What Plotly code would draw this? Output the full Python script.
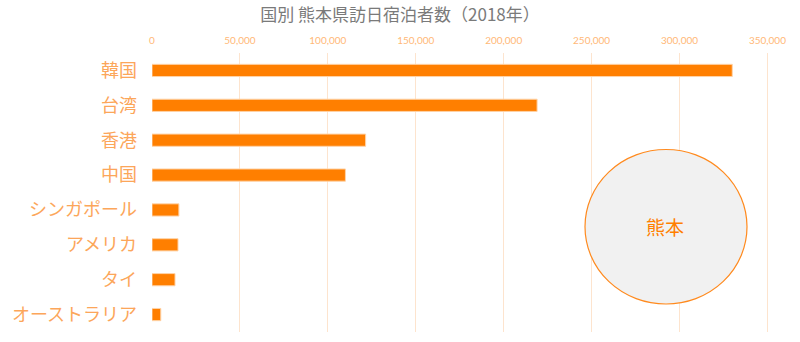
import plotly.graph_objects as go

countries = ["韓国", "台湾", "香港", "中国", "シンガポール", "アメリカ", "タイ", "オーストラリア"]
guests = [330000, 219000, 121500, 110000, 15300, 14800, 13100, 5000]
tick_vals = [0, 50000, 100000, 150000, 200000, 250000, 300000, 350000]
tick_text = ["0", "50,000", "100,000", "150,000", "200,000", "250,000", "300,000", "350,000"]

fig = go.Figure()
fig.add_trace(go.Bar(
    x=guests, y=countries, orientation="h", width=0.35,
    marker=dict(color="#FF7F00", line=dict(color="#FFD3A8", width=1)),
    hoverinfo="x+y",
))

fig.update_layout(
    width=800, height=342,
    margin=dict(l=152, r=15, t=53, b=10),
    plot_bgcolor="white", paper_bgcolor="white",
    showlegend=False,
    title=dict(text="国別 熊本県訪日宿泊者数（2018年）", x=0.5, xanchor="center",
               y=1 - 15 / 342, yanchor="middle",
               font=dict(family="Noto Sans CJK JP", size=17, color="#7A7A7A")),
    xaxis=dict(range=[0, 360000], side="top", tickvals=tick_vals, ticktext=tick_text,
               showgrid=True, gridcolor="#FDE4CE", gridwidth=1, zeroline=False,
               showline=False, ticks="", ticklabelstandoff=6,
               tickfont=dict(family="Lato", size=10, color="#FFB877")),
    yaxis=dict(categoryorder="array", categoryarray=countries, autorange="reversed",
               showgrid=False, zeroline=False, showline=False, ticks="",
               ticklabelstandoff=14,
               tickfont=dict(family="Noto Sans CJK JP", size=18, color="#FCA65A")),
    shapes=[dict(type="circle", xref="paper", yref="paper",
                 x0=(585 - 152) / 633, x1=(747 - 152) / 633,
                 y0=(332 - 304) / 279, y1=(332 - 149.5) / 279,
                 fillcolor="#F1F1F1", line=dict(color="#FF8A1E", width=1.2), layer="above")],
    annotations=[dict(text="熊本", xref="paper", yref="paper",
                      x=(665 - 152) / 633, y=(332 - 226) / 279,
                      showarrow=False, xanchor="center", yanchor="middle",
                      font=dict(family="Noto Sans CJK JP", size=19, color="#FF7F00"))],
)

fig.write_html("out.html")
